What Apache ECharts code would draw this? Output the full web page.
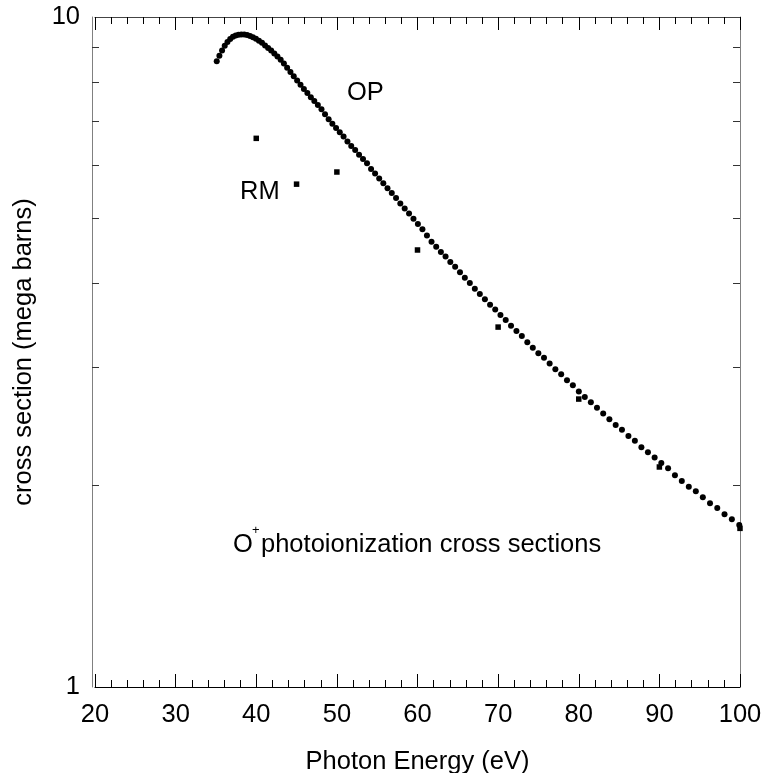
<!DOCTYPE html>
<html>
<head>
<meta charset="utf-8">
<script src="https://cdn.jsdelivr.net/npm/echarts@6/dist/echarts.min.js"></script>
<style>
  html, body { margin: 0; padding: 0; background: #ffffff; }
  #chart { width: 778px; height: 773px; }
</style>
</head>
<body>
<div id="chart"></div>
<script>
// OP (Opacity Project) cross sections: photon energy (eV) and cross section (Mb)
const opEnergy = [
  35.10, 35.43, 35.76, 36.09, 36.43, 36.77, 37.11, 37.45, 37.80, 38.15,
  38.51, 38.87, 39.23, 39.59, 39.96, 40.33, 40.71, 41.09, 41.47, 41.85,
  42.24, 42.63, 43.03, 43.43, 43.83, 44.24, 44.65, 45.07, 45.49, 45.91,
  46.34, 46.77, 47.20, 47.64, 48.09, 48.53, 48.98, 49.44, 49.90, 50.36,
  50.83, 51.31, 51.78, 52.27, 52.75, 53.24, 53.74, 54.24, 54.74, 55.25,
  55.76, 56.28, 56.81, 57.34, 57.87, 58.41, 58.95, 59.50, 60.05, 60.61,
  61.17, 61.74, 62.32, 62.90, 63.48, 64.07, 64.67, 65.27, 65.87, 66.49,
  67.11, 67.73, 68.36, 69.00, 69.64, 70.29, 70.94, 71.60, 72.27, 72.94,
  73.62, 74.30, 74.99, 75.69, 76.39, 77.10, 77.82, 78.54, 79.27, 80.01,
  80.75, 81.50, 82.26, 83.03, 83.80, 84.58, 85.36, 86.16, 86.96, 87.77,
  88.58, 89.41, 90.24, 91.08, 91.93, 92.78, 93.65, 94.52, 95.39, 96.28,
  97.18, 98.08, 98.99, 99.91
];
const opCross = [
  8.59, 8.75, 8.91, 9.06, 9.18, 9.27, 9.34, 9.38, 9.41, 9.42,
  9.42, 9.40, 9.37, 9.33, 9.28, 9.22, 9.15, 9.07, 8.99, 8.91,
  8.82, 8.73, 8.63, 8.52, 8.40, 8.28, 8.16, 8.04, 7.92, 7.81,
  7.70, 7.59, 7.49, 7.39, 7.28, 7.16, 7.04, 6.93, 6.83, 6.73,
  6.63, 6.52, 6.42, 6.33, 6.23, 6.14, 6.05, 5.93, 5.84, 5.74,
  5.65, 5.55, 5.46, 5.37, 5.27, 5.18, 5.09, 5.00, 4.91, 4.82,
  4.72, 4.62, 4.54, 4.46, 4.39, 4.31, 4.24, 4.16, 4.08, 4.01,
  3.93, 3.86, 3.79, 3.72, 3.66, 3.59, 3.53, 3.46, 3.40, 3.34,
  3.27, 3.21, 3.15, 3.10, 3.04, 2.98, 2.93, 2.87, 2.82, 2.76,
  2.71, 2.66, 2.61, 2.56, 2.51, 2.46, 2.42, 2.37, 2.33, 2.28,
  2.24, 2.20, 2.16, 2.12, 2.07, 2.03, 1.99, 1.96, 1.92, 1.88,
  1.85, 1.81, 1.78, 1.745
];

// RM (Reilman & Manson) cross sections
const rmEnergy = [40, 45, 50, 60, 70, 80, 90, 100];
const rmCross = [6.59, 5.63, 5.87, 4.49, 3.445, 2.69, 2.13, 1.725];

// Axis ranges and ticks
const xMin = 20, xMax = 100, xStep = 10;
const yMin = 1, yMax = 10;
const yMinorTicks = [2, 3, 4, 5, 6, 7, 8, 9];

const FONT = '"Liberation Sans", Arial, Helvetica, sans-serif';
const FS = 25.5;

const opData = opEnergy.map((e, i) => [e, opCross[i]]);
const rmData = rmEnergy.map((e, i) => [e, rmCross[i]]);

const chart = echarts.init(document.getElementById('chart'), null, { renderer: 'canvas' });

const xAxisCommon = {
  type: 'value',
  min: xMin,
  max: xMax,
  interval: xStep,
  splitLine: { show: false },
  axisTick: { show: true, inside: true, length: 13, lineStyle: { color: '#000', width: 1 } },
  minorTick: { show: true, splitNumber: 5, length: 7, lineStyle: { color: '#000', width: 1 } },
  minorSplitLine: { show: false }
};

const yAxisCommon = {
  type: 'log',
  logBase: 10,
  min: yMin,
  max: yMax,
  splitLine: { show: false },
  minorTick: { show: false },
  axisTick: { show: true, inside: true, length: 7, customValues: yMinorTicks, lineStyle: { color: '#333', width: 1 } }
};

chart.setOption({
  animation: false,
  backgroundColor: '#ffffff',
  grid: { left: 95, right: 38, top: 17, bottom: 86, containLabel: false, outerBoundsMode: 'none' },
  xAxis: [
    Object.assign({}, xAxisCommon, {
      position: 'bottom',
      axisLine: { show: true, onZero: false, lineStyle: { color: '#000', width: 1 } },
      axisLabel: { show: true, margin: 15, color: '#000', fontFamily: FONT, fontSize: FS },
      name: 'Photon Energy (eV)',
      nameLocation: 'middle',
      nameGap: 62,
      nameTextStyle: { color: '#000', fontFamily: FONT, fontSize: FS }
    }),
    Object.assign({}, xAxisCommon, {
      position: 'top',
      axisLine: { show: true, onZero: false, lineStyle: { color: '#444', width: 1 } },
      axisLabel: { show: false }
    })
  ],
  yAxis: [
    Object.assign({}, yAxisCommon, {
      position: 'left',
      offset: 3,
      axisLine: { show: true, onZero: false, lineStyle: { color: '#808080', width: 1 } },
      axisLabel: { show: true, margin: 12, color: '#000', fontFamily: FONT, fontSize: FS,
        formatter: v => String(Math.round(v)) },
      name: 'cross section (mega barns)',
      nameLocation: 'middle',
      nameGap: 55,
      nameTextStyle: { color: '#000', fontFamily: FONT, fontSize: FS }
    }),
    Object.assign({}, yAxisCommon, {
      position: 'right',
      axisLine: { show: true, onZero: false, lineStyle: { color: '#808080', width: 1 } },
      axisLabel: { show: false }
    })
  ],
  series: [
    {
      name: 'OP',
      type: 'scatter',
      xAxisIndex: 0,
      yAxisIndex: 0,
      data: opData,
      symbol: 'circle',
      symbolSize: 6,
      clip: false,
      itemStyle: { color: '#000', opacity: 1 },
      emphasis: { disabled: true }
    },
    {
      name: 'RM',
      type: 'scatter',
      xAxisIndex: 0,
      yAxisIndex: 0,
      data: rmData,
      symbol: 'rect',
      symbolSize: 5.5,
      clip: false,
      itemStyle: { color: '#000', opacity: 1 },
      emphasis: { disabled: true }
    }
  ],
  graphic: [
    {
      type: 'text', left: 347, top: 80,
      style: { text: 'OP', fill: '#000', font: FS + 'px ' + FONT }
    },
    {
      type: 'text', left: 240, top: 179,
      style: { text: 'RM', fill: '#000', font: FS + 'px ' + FONT }
    },
    {
      type: 'group', left: 233, top: 524,
      children: [
        { type: 'text', x: 0, y: 8, style: { text: 'O', fill: '#000', font: FS + 'px ' + FONT } },
        { type: 'text', x: 19, y: 0, style: { text: '+', fill: '#000', font: '13px ' + FONT } },
        { type: 'text', x: 28, y: 8, style: { text: 'photoionization cross sections', fill: '#000', font: FS + 'px ' + FONT } }
      ]
    }
  ]
});
</script>
</body>
</html>
